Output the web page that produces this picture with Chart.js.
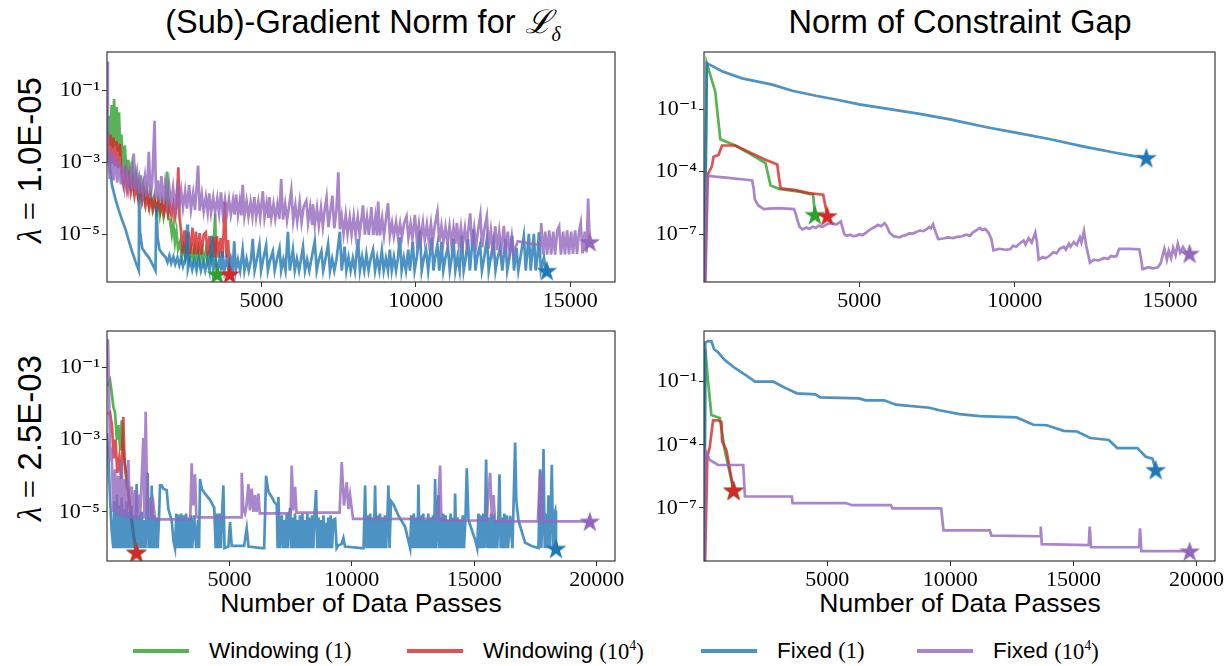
<!DOCTYPE html>
<html>
<head>
<meta charset="utf-8">
<title>Gradient norm and constraint gap</title>
<script src="https://cdn.jsdelivr.net/npm/chart.js@4.4.1/dist/chart.umd.min.js"></script>
<style>
  body { margin: 0; width: 1227px; height: 666px; position: relative; overflow: hidden; background: #fff;
         font-family: "Liberation Sans", Arial, sans-serif; color: #000; }
  canvas { position: absolute; }
  .title { position: absolute; top: 6px; font-size: 32.5px; line-height: 32px; white-space: nowrap; transform: translateX(-50%); }
  .xlab { position: absolute; top: 590px; font-size: 26.5px; line-height: 26.5px; white-space: nowrap; transform: translateX(-50%); }
  .rowlab { position: absolute; left: 30px; font-size: 33px; line-height: 33px; white-space: nowrap; transform: translate(-50%, -50%) rotate(-90deg); }
  .m { font-family: "Liberation Serif", "DejaVu Serif", serif; }
  .legend-item { position: absolute; top: 639px; height: 24px; display: flex; align-items: center; font-size: 22.5px; white-space: nowrap; }
  .legend-item i { display: inline-block; width: 56px; height: 3.5px; margin-right: 20px; }
</style>
</head>
<body>

<div class="title" style="left:363px">(Sub)-Gradient Norm for <span class="m" style="font-style:italic">ℒ</span><sub style="font-size:20px" class="m"><i>δ</i></sub></div>
<div class="title" style="left:960px">Norm of Constraint Gap</div>
<div class="rowlab" style="top:160px"><span class="m"><i>λ</i> =</span> 1.0E-05</div>
<div class="rowlab" style="top:438px"><span class="m"><i>λ</i> =</span> 2.5E-03</div>
<div class="xlab" style="left:361px">Number of Data Passes</div>
<div class="xlab" style="left:960px">Number of Data Passes</div>

<div class="legend-item" style="left:133px"><i style="background:rgba(44,160,44,0.8)"></i>Windowing&nbsp;<span class="m">(1)</span></div>
<div class="legend-item" style="left:407px"><i style="background:rgba(214,39,40,0.8)"></i>Windowing&nbsp;<span class="m">(10<sup style="font-size:14px">4</sup>)</span></div>
<div class="legend-item" style="left:701px"><i style="background:rgba(31,119,180,0.8)"></i>Fixed&nbsp;<span class="m">(1)</span></div>
<div class="legend-item" style="left:917px"><i style="background:rgba(148,103,189,0.8)"></i>Fixed&nbsp;<span class="m">(10<sup style="font-size:14px">4</sup>)</span></div>

<script>
// order of every series list: Windowing (1), Windowing (10^4), Fixed (1), Fixed (10^4)
const lineColors = ['rgba(44,160,44,0.8)', 'rgba(214,39,40,0.8)', 'rgba(31,119,180,0.8)', 'rgba(148,103,189,0.8)'];
const starColors = ['#2ca02c', '#d62728', '#1f77b4', '#9467bd'];

const xTicksTop = [5000, 10000, 15000];
const xTicksBottom = [5000, 10000, 15000, 20000];
const yTicksGrad = [1e-1, 1e-3, 1e-5];
const yTicksGap = [1e-1, 1e-4, 1e-7];

// ---- lambda = 1.0E-05, gradient norm ----
const gradWin1A = [[20,5e-3],[60,2e-2],[110,3e-3],[150,4e-2],[190,2.5e-3],[230,5.9e-2],[270,3e-3],[310,3.5e-2],[350,2e-3],[390,2.5e-2],[430,1.5e-3],[470,6e-3],[520,5e-4],[580,3e-3],[630,4e-4],[690,1.2e-3],[750,3e-4],[810,8e-4],[870,2.2e-4],[930,5e-4],[990,1.6e-4],[1050,3.5e-4],[1110,1.2e-4],[1170,2.5e-4],[1230,9e-5],[1290,1.8e-4],[1350,7e-5],[1410,1.4e-4],[1470,5.5e-5],[1530,1.1e-4],[1590,4.5e-5],[1650,9e-5],[1710,3.5e-5],[1770,8e-5],[1830,3.2e-5],[1890,7e-5],[1952,5.6e-4],[1990,2.9e-5],[2040,2.5e-5],[2100,1e-5],[2150,2e-5],[2200,6e-6],[2250,1.2e-5],[2300,4e-6],[2360,6e-6],[2420,2.4e-6],[2480,4.5e-6],[2540,2.2e-6],[2600,4.2e-6],[2660,2e-6],[2720,4e-6],[2780,2e-6],[2840,4e-6],[2900,1.9e-6],[2960,4e-6],[3020,1.9e-6],[3080,3.8e-6],[3140,1.9e-6],[3200,3.6e-6],[3260,1.9e-6],[3320,3.6e-6],[3380,1.9e-6],[3440,3.4e-6],[3504,3.8e-5],[3530,1.9e-6],[3570,8e-7]];

const gradWin4A = [[20,7e-3],[60,1e-3],[110,6e-3],[160,9e-4],[210,5e-3],[260,8e-4],[310,4e-3],[360,7e-4],[420,3.3e-3],[470,5e-4],[530,2.4e-4],[590,5e-4],[650,1.8e-4],[710,4e-4],[770,1.5e-4],[830,3e-4],[890,1.2e-4],[950,2.4e-4],[1010,1e-4],[1070,1.8e-4],[1130,8e-5],[1190,1.5e-4],[1250,6.5e-5],[1310,1.2e-4],[1370,5.5e-5],[1430,1.1e-4],[1490,5e-5],[1550,9e-5],[1610,4.8e-5],[1670,8.5e-5],[1730,4.5e-5],[1790,8e-5],[1850,4e-5],[1910,7.5e-5],[1970,3.7e-5],[2030,7e-5],[2090,3.4e-5],[2150,7e-5],[2210,3.2e-5],[2260,6.5e-5],[2310,7.4e-4],[2350,3e-5],[2400,1.2e-5],[2450,3e-6],[2510,1.3e-5],[2570,3e-6],[2630,1.2e-5],[2690,2.9e-6],[2766,1.55e-5],[2820,2.8e-6],[2880,1.2e-5],[2940,2.8e-6],[3000,1.1e-5],[3060,2.8e-6],[3130,1e-5],[3200,1.15e-5],[3260,2.6e-6],[3320,9e-6],[3380,2.4e-6],[3440,8.5e-6],[3500,2.3e-6],[3560,9e-6],[3620,2.3e-6],[3680,8e-6],[3740,2.3e-6],[3820,8.1e-5],[3870,2.3e-6],[3920,7e-6],[3970,8e-7]];

const gradFix1A = [[0,2e-3],[60,1.2e-3],[110,6e-4],[160,2.4e-4],[270,1e-4],[380,4.8e-5],[490,2.5e-5],[600,1.4e-5],[700,7e-6],[810,3.4e-6],[920,1.8e-6],[1030,1e-6],[1040,1.45e-4],[1070,1.2e-5],[1140,4.2e-6],[1250,3e-6],[1360,2.3e-6],[1470,1.5e-6],[1570,1e-6],[1600,6.5e-5],[1640,8e-6],[1700,3.8e-6],[1800,2.9e-6],[1900,2.3e-6],
  [1960,1.7e-6],[2020,2.6e-6],[2080,1.6e-6],[2150,2.4e-6],[2210,1.5e-6],[2280,2.3e-6],[2340,1.4e-6],[2400,2.2e-6],[2460,1.3e-6],[2530,2.1e-6],[2600,1.9e-5],[2620,1.1e-6],[2690,2e-6],[2760,1.05e-6],[2830,1.9e-6],[2900,1e-6],[2970,2.1e-6],[3040,1e-6],[3110,1.8e-6],[3180,1e-6],[3250,2e-6],[3320,1e-6],[3395,9.3e-6],[3440,1e-6],[3510,1.9e-6],[3580,1e-6],[3650,2.2e-6],[3700,1e-6],[3743,3.4e-6],[3800,1e-6],[3870,2e-6],[3940,1e-6],[4010,2.1e-6],[4070,1e-6],[4120,6.5e-6],[4170,1e-6],[4240,2e-6],[4310,1e-6],[4394,3.8e-6],[4450,1e-6],[4520,2.1e-6],[4590,1e-6],[4660,1.9e-6],[4720,7.6e-6],[4780,1e-6],[4850,2e-6],[4936,5.1e-6],[4990,1e-6],[5060,2.1e-6],[5153,5e-6],[5210,1e-6],[5280,1.9e-6],[5370,3.4e-6],[5430,1e-6],[5500,2e-6],[5587,4.2e-6],[5640,1e-6],[5710,2e-6],[5780,1e-6],[5858,1.2e-5],[5920,1e-6],[6020,3.8e-6],[6080,1e-6],[6150,2.1e-6],[6220,1e-6],[6280,2e-6],[6347,4.6e-6],[6410,1e-6],[6480,2e-6],[6550,1e-6],[6620,2.1e-6],[6727,6.5e-6],[6790,1e-6],[6860,2e-6],[6943,3.4e-6],[7000,1e-6],[7070,2e-6],[7160,5.4e-6],[7220,1e-6],[7290,2.1e-6],[7360,1e-6],[7430,2e-6],[7540,1.2e-5],[7600,1e-6],[7693,4.6e-6],[7750,1e-6],[7820,2.3e-6],[7890,1e-6],[7960,2.2e-6],[8030,1e-6],[8127,7.6e-6],[8190,1e-6],[8260,2.4e-6],[8330,1e-6],[8400,2.8e-6],[8470,1e-6],[8540,2.2e-6],[8615,3.8e-6],[8680,1e-6],[8750,2.3e-6],[8820,1e-6],[8900,3.6e-6],[8960,1e-6],[9030,2.2e-6],[9100,1e-6],[9158,3.8e-6],[9220,1e-6],[9290,2.4e-6],[9360,1e-6],[9420,2.2e-6],[9483,8.4e-6],[9540,1e-6],[9610,2.3e-6],[9680,1e-6],[9754,3.8e-6],[9810,1e-6],[9900,6.3e-6],[9960,1e-6],[10030,2.3e-6],[10134,1.3e-5],[10190,1e-6],[10260,2.2e-6],[10330,3.8e-6],[10400,1e-6],[10514,8.4e-6],[10570,1e-6],[10630,2.4e-6],[10698,5.1e-6],[10760,1e-6],[10830,6.3e-6],[10890,1e-6],[10960,2.3e-6],[11040,4.4e-6],[11100,1e-6],[11160,2.2e-6],[11219,7.6e-6],[11280,1e-6],[11350,2.4e-6],[11420,1e-6],[11490,9.3e-6],[11550,1e-6],[11620,2.3e-6],[11690,7.6e-6],[11750,1e-6],[11870,1.4e-5],[11930,1e-6],[11990,2.4e-6],[12080,5.1e-6],[12140,1e-6],[12210,2.2e-6],[12304,7.6e-6],[12360,1e-6],[12430,2.4e-6],[12520,6.3e-6],[12580,1e-6],[12650,2.3e-6],[12730,4.2e-6],[12800,1e-6],[12901,7.6e-6],[12960,1e-6],[13030,2.3e-6],[13118,9.3e-6],[13180,1e-6],[13260,4.2e-6],[13320,1e-6],[13390,2.4e-6],[13498,9.3e-6],[13560,1e-6],[13660,1.05e-5],[13720,1e-6],[13823,1.05e-5],[13880,1e-6],[13940,2.4e-6],[13986,1.15e-5],[14050,1e-6],[14149,2.3e-6],[14200,1e-6],[14240,1e-6]];

const gradFix4A = [[0,0.65],[30,2.7e-3],[90,3.5e-4],[150,2.2e-3],[210,3.2e-4],[270,1.6e-3],[330,2.8e-4],[390,1.1e-3],[450,2.5e-4],[510,8e-4],[570,2.2e-4],[630,6.5e-4],[690,2e-4],[750,5.5e-4],[810,1.8e-4],[867,1.8e-3],[920,1.6e-4],[980,4.8e-4],[1040,1.4e-4],[1100,4.4e-4],
  [1160,1.25e-4],[1230,4e-4],[1290,1.15e-4],[1355,2e-3],[1410,1.05e-4],[1470,3.6e-4],[1540,1.45e-2],[1590,9.5e-5],[1640,3.2e-4],[1700,8.5e-5],[1760,4.2e-4],[1820,8e-5],[1880,2.6e-4],[1950,7.5e-5],[2010,2.3e-4],[2070,6.8e-5],
  [2140,2e-4],[2200,6.2e-5],[2270,1.9e-4],[2330,6e-5],[2400,1.7e-4],[2460,5.6e-5],[2530,1.6e-4],[2590,5.3e-5],[2660,2.4e-4],[2720,5e-5],[2790,1.4e-4],[2850,4.8e-5],[2950,8.3e-4],[3000,4.6e-5],[3070,1.3e-4],[3130,4.4e-5],[3200,1.1e-4],
  [3260,4.2e-5],[3310,1.4e-4],[3370,4.1e-5],[3440,1.05e-4],[3500,4e-5],[3570,1e-4],[3630,3.9e-5],[3690,1.5e-4],[3750,3.8e-5],[3820,9.5e-5],[3880,3.7e-5],[3950,9.5e-5],[4010,3.6e-5],[4080,9e-5],[4130,3.6e-5],[4180,1.3e-4],[4240,3.5e-5],
  [4300,8.5e-5],[4350,3.4e-5],[4394,2.4e-4],[4450,3.3e-5],[4520,8.5e-5],[4580,3.2e-5],[4650,8e-5],[4710,3.2e-5],[4770,1.1e-4],[4830,3.1e-5],[4900,8e-5],[4960,3e-5],[5045,1.6e-4],[5100,3e-5],[5170,7.5e-5],[5230,2.9e-5],[5260,1.1e-4],[5320,2.9e-5],[5390,7e-5],
  [5450,2.8e-5],[5520,7e-5],[5580,2.7e-5],[5640,3.5e-4],[5700,2.6e-5],[5770,7e-5],[5830,2.5e-5],[5900,6.5e-5],[5967,1.7e-4],[6030,2.4e-5],[6100,6.5e-5],[6160,2.3e-5],[6238,8e-5],[6300,2.2e-5],[6370,6e-5],[6455,8.7e-5],[6510,2.1e-5],
  [6580,5.8e-5],[6640,2e-5],[6670,7e-5],[6730,1.9e-5],[6800,5.5e-5],[6860,1.8e-5],[6930,5.5e-5],[6990,1.7e-5],[7050,5e-5],[7110,1.07e-4],[7170,1.6e-5],[7240,5e-5],[7300,1.2e-4],[7360,1.5e-5],[7430,4.8e-5],[7490,5.4e-4],[7540,1.4e-5],
  [7600,3.2e-5],[7660,1.05e-5],[7730,3.5e-5],[7790,1.05e-5],[7860,3e-5],[7920,1e-5],[7990,3.2e-5],[8050,1e-5],[8120,3e-5],[8180,1e-5],[8290,6.5e-5],[8350,1e-5],[8420,3e-5],[8480,9.8e-6],[8560,5.8e-5],[8620,9.6e-6],[8690,3e-5],[8740,9.5e-6],[8780,8.3e-5],[8840,9.5e-6],[8910,2.8e-5],[8970,9.4e-6],[9040,3e-5],[9100,7.4e-5],[9160,9.3e-6],
  [9230,2.1e-5],[9290,9e-6],[9360,2.2e-5],[9420,8.6e-6],[9490,2e-5],[9550,8.3e-6],[9620,2.1e-5],[9700,3.2e-5],[9760,8e-6],[9830,2e-5],[9890,7.7e-6],[9970,3.5e-5],[10030,7.4e-6],[10100,2e-5],[10160,7.1e-6],[10230,2.1e-5],[10290,6.9e-6],[10360,1.9e-5],[10420,6.7e-6],[10490,2e-5],[10550,6.5e-6],[10620,1.9e-5],[10700,4.3e-5],[10760,6.3e-6],
  [10830,1.7e-5],[10890,6.1e-6],[10960,1.6e-5],[11020,5.9e-6],[11090,1.7e-5],[11150,5.7e-6],[11220,1.6e-5],[11280,5.5e-6],[11330,2.1e-5],[11390,5.3e-6],[11460,1.6e-5],[11520,5.2e-6],[11590,1.5e-5],[11650,5.1e-6],[11760,3.9e-5],[11820,4.9e-6],[11890,1.5e-5],[11950,4.7e-6],[12020,1.4e-5],[12090,3.5e-5],[12150,4.4e-6],[12220,1.4e-5],[12300,3.2e-5],[12360,4.1e-6],[12430,1.3e-5],[12490,3.9e-6],[12575,1.7e-5],[12630,3.7e-6],[12700,1.2e-5],[12760,3.5e-6],[12850,1.75e-5],[12910,3.2e-6],
  [12980,1.2e-5],[13040,3.1e-6],[13110,9e-6],[13170,3.1e-6],[13300,6.5e-6],[13600,5.8e-6],[13900,5.3e-6],[14040,5e-6],
  [14060,2.1e-5],[14120,2.8e-6],[14190,1.2e-5],[14250,2.75e-6],[14320,1.3e-5],[14380,2.75e-6],[14450,1.2e-5],[14510,2.75e-6],[14580,1.3e-5],[14640,1.7e-5],[14700,2.75e-6],[14770,1.2e-5],[14830,2.8e-6],[14900,1.3e-5],[14960,2.8e-6],[15030,1.2e-5],[15090,2.9e-6],[15160,1.3e-5],[15220,2.9e-6],[15290,1.3e-5],[15340,2.1e-5],[15400,3e-6],[15470,1.2e-5],[15530,3.2e-6],[15580,1e-4],[15630,6.3e-6]];

// ---- lambda = 1.0E-05, constraint gap ----
const gapWin1A = [[0,1e-12],[90,16],[362,0.69],[524,3.6e-3],[1009,1.8e-3],[1549,6.3e-4],[1981,2.6e-4],[2035,1.1e-4],[2142,2.2e-5],[2412,1.5e-5],[3059,1.1e-5],[3512,7.9e-6],[3570,8.7e-7]];
const gapWin4A = [[0,1e-12],[124,7.6e-5],[254,1.8e-4],[308,5.2e-4],[470,6.3e-4],[578,1.8e-3],[1009,1.8e-3],[1440,8.9e-4],[1981,3.7e-4],[2358,2.2e-4],[2412,5.4e-5],[2466,1.6e-5],[2951,1.3e-5],[3383,9.3e-6],[3836,7.9e-6],[3970,7.6e-7]];
const gapFix1A = [[0,1e-12],[90,16],[580,6.6],[1225,3],[1656,2.2],[2196,1.5],[2843,0.76],[3598,0.44],[4245,0.29],[5000,0.17],[5972,0.1],[6943,0.059],[7915,0.032],[9102,0.0135],[10073,7.2e-3],[11152,3.6e-3],[12231,1.6e-3],[13202,8.3e-4],[13850,5.6e-4],[14240,4.7e-4]];
const gapFix4A = [[0,1e-12],[92,6.5e-5],[362,5.8e-5],[700,5.2e-5],[1009,4.6e-5],[1300,4.2e-5],[1549,3.8e-5],[1600,1.5e-5],[1635,4.7e-6],[1750,2.4e-6],[1926,1.6e-6],[2100,1.7e-6],[2412,1.8e-6],[2650,1.7e-6],[2897,1.6e-6],[2950,1e-6],[3005,4.8e-7],[3080,2.2e-7],[3167,1.7e-7],[3300,2.1e-7],[3400,1.8e-7],[3500,2.3e-7],[3598,2e-7],[3700,2.6e-7],[3800,2.2e-7],[3922,2.8e-7],[4000,3.2e-7],[4137,3.4e-7],[4250,2.9e-7],[4407,4e-7],[4460,2e-7],[4515,1e-7],[4600,8.5e-8],[4700,9.5e-8],[4800,8e-8],[4893,8.3e-8],[5000,1e-7],[5100,9e-8],[5217,1.2e-7],[5300,1.5e-7],[5400,1.9e-7],[5500,2.2e-7],[5595,2.8e-7],[5700,2.4e-7],[5811,3.4e-7],[5880,2.5e-7],[5973,1.2e-7],[6100,8e-8],[6296,7.1e-8],[6400,8.5e-8],[6500,9e-8],[6600,1.1e-7],[6728,1.07e-7],[6850,1.3e-7],[6950,1.5e-7],[7050,1.4e-7],[7160,1.7e-7],[7250,2.2e-7],[7300,1.9e-7],[7375,3e-7],[7420,1.8e-7],[7537,5.9e-8],[7700,6.2e-8],[7850,7e-8],[8023,6.5e-8],[8150,7.5e-8],[8300,8e-8],[8450,9.5e-8],[8562,8.3e-8],[8650,1.2e-7],[8750,1.5e-7],[8886,2e-7],[8950,1.6e-7],[9050,1.8e-7],[9156,1.2e-7],[9250,6e-8],[9318,1.7e-8],[9500,2e-8],[9700,1.8e-8],[9857,1.9e-8],[9950,2.8e-8],[10050,2.5e-8],[10150,3.5e-8],[10288,5e-8],[10350,3.2e-8],[10450,6.5e-8],[10550,4e-8],[10666,1.2e-7],[10720,4e-8],[10774,6e-9],[10900,8e-9],[11000,7e-9],[11152,1e-8],[11250,1.4e-8],[11350,1.2e-8],[11450,2e-8],[11584,2.5e-8],[11650,1.8e-8],[11750,3.5e-8],[11800,2.5e-8],[11907,4.2e-8],[12000,3e-8],[12100,7e-8],[12150,4e-8],[12231,1.4e-7],[12300,3e-8],[12425,4.3e-9],[12550,6e-9],[12700,5.5e-9],[12878,7.2e-9],[13000,6.5e-9],[13100,9e-9],[13202,8.5e-9],[13280,9e-9],[13364,2e-8],[13700,2e-8],[14011,1.9e-8],[14060,8e-9],[14119,2.1e-9],[14300,2.6e-9],[14450,2.3e-9],[14604,2.5e-9],[14700,4e-9],[14780,1.2e-8],[14820,2e-8],[14900,6e-9],[14960,1.6e-8],[15036,7.2e-9],[15100,2.2e-8],[15180,1e-8],[15252,3.5e-8],[15330,1.3e-8],[15420,2.4e-8],[15500,1.5e-8],[15630,1.2e-8]];

// ---- lambda = 2.5E-03, gradient norm ----
const gradWin1B = [[20,3e-2],[123,4.3e-2],[191,2e-2],[260,8e-3],[327,5.6e-3],[400,1e-3],[463,2.5e-3],[540,5e-4],[599,3.4e-3],[660,6e-4],[735,2.2e-4],[800,5e-5],[872,4e-5],[940,1e-5],[1008,5.8e-6],[1100,2e-6],[1200,7.6e-7]];
const gradWin4B = [[20,5e-3],[123,5.6e-3],[200,2.5e-3],[280,3e-4],[350,1e-3],[420,1.2e-4],[500,3e-4],[580,8e-5],[667,4.2e-3],[720,2.2e-4],[800,1e-4],[880,3e-5],[960,1e-5],[1008,5.8e-6],[1100,2e-6],[1200,7.6e-7]];
const gradFix1B = [[0,1.5e-3],[54,3.3e-4],[130,2e-5],[191,3e-6],[259,1e-6],
  [300,2e-5],[350,1e-6],[400,3e-5],[450,1e-6],[500,1.5e-5],[550,1e-6],[600,2.5e-5],[650,1e-6],[700,1.2e-5],[750,1e-6],[800,2e-5],[850,1e-6],[900,1e-5],[950,1e-6],[1000,1.5e-5],[1050,1e-6],[1100,8e-6],[1150,1e-6],[1212,5.9e-5],[1260,1e-6],[1310,8e-6],[1360,1e-6],[1420,1e-5],[1470,1e-6],[1520,6e-6],[1570,1e-6],[1620,9e-6],[1662,1.2e-4],[1700,1e-6],[1750,7e-6],[1790,1e-6],[1825,5.4e-5],[1870,1e-6],[1920,8e-6],[1970,1e-6],[2020,7e-6],[2070,1e-6],[2120,6e-6],[2166,5.4e-5],[2234,5.4e-5],[2300,4.4e-5],[2438,4e-5],[2506,1.2e-5],[2642,5.8e-6],[2720,1.5e-6],[2778,1e-6],
  [2830,9e-6],[2880,1e-6],[2930,8.5e-6],[2980,1e-6],[3030,9e-6],[3080,1e-6],[3130,8e-6],[3180,1e-6],[3230,9e-6],[3280,1e-6],[3330,7e-6],[3380,1e-6],[3430,8e-6],[3480,1e-6],
  [3560,8e-6],[3640,1e-6],[3720,6e-6],[3760,1e-6],[3800,8.1e-5],[3868,4.4e-5],[4004,3.2e-5],[4200,2.2e-5],[4380,1.3e-5],[4440,1e-6],[4500,9e-6],[4550,1e-6],[4600,9e-6],[4650,1e-6],[4700,8e-6],[4753,5.4e-5],[4800,1e-6],
  [4958,1.1e-6],[5026,5.2e-6],[5094,1.15e-6],[5600,1.15e-6],[5707,3.5e-6],[5780,1.1e-6],[6320,1e-6],
  [6420,1e-6],[6497,1e-4],[6592,3.6e-5],[6728,2.6e-5],[6850,1.8e-5],[6933,1.6e-5],[6970,1e-6],[7001,2.6e-5],[7060,1e-6],
  [7137,8e-6],[7190,1e-6],[7240,6e-6],[7290,1e-6],[7340,9e-6],[7390,1e-6],[7440,7e-6],[7477,1.3e-5],[7530,1e-6],[7580,7e-6],[7630,1e-6],[7680,9e-6],[7730,1e-6],[7780,6e-6],[7830,1e-6],[7880,8e-6],[7930,1e-6],[7980,9e-6],[8030,1e-6],[8080,6e-6],[8130,1e-6],[8180,9e-6],[8230,1e-6],[8280,7e-6],[8330,1e-6],[8380,8e-6],[8430,1e-6],[8480,9e-6],[8540,4e-5],[8590,1e-6],[8640,7e-6],[8690,1e-6],[8740,6e-6],[8790,1e-6],[8840,8e-6],[8890,1e-6],[8940,5e-6],[8990,1e-6],[9040,7e-6],[9090,1e-6],[9140,8e-6],[9190,1e-6],[9250,6e-6],[9316,6.4e-6],[9380,1e-6],[9452,1.2e-6],
  [9580,1.3e-6],[9656,1.9e-6],[9720,1.1e-6],[10400,1e-6],[10480,1e-6],
  [10542,5.4e-5],[10600,1e-6],[10650,8e-6],[10700,1e-6],[10750,9e-6],[10800,1e-6],[10850,7e-6],[10900,1e-6],[10950,5.4e-5],[11000,1e-6],[11050,8e-6],[11100,1e-6],[11150,9e-6],[11200,1e-6],[11250,7e-6],[11300,1e-6],[11350,8e-6],[11400,1e-6],[11450,6e-6],[11495,5.4e-5],[11540,1e-6],
  [11600,2e-5],[11700,1.6e-5],[11900,8e-6],[12176,3.9e-6],[12381,1e-6],
  [12430,8e-6],[12480,1e-6],[12530,9e-6],[12580,1e-6],[12630,7e-6],[12680,1e-6],[12721,5.7e-5],[12770,1e-6],[12820,8e-6],[12870,1e-6],[12920,9e-6],[12970,1e-6],[13020,6e-6],[13070,1e-6],[13120,9e-6],[13170,1e-6],[13220,7e-6],[13270,1e-6],[13320,8e-6],[13360,1e-6],[13402,8.1e-5],[13450,1e-6],[13538,2.9e-5],[13580,1e-6],[13630,7e-6],[13680,1e-6],[13730,9e-6],[13780,1e-6],[13830,8e-6],[13880,1e-6],[13930,6e-6],[13980,1e-6],[14030,9e-6],[14080,1e-6],[14130,7e-6],[14180,1e-6],[14219,3.2e-5],[14270,1e-6],
  [14330,7e-6],[14380,1e-6],[14430,6e-6],[14480,1e-6],[14530,8e-6],[14580,1e-6],[14640,6e-6],[14696,1.6e-4],[14764,6e-6],[14900,3.2e-6],[15036,1.7e-6],[15120,1e-6],
  [15173,9e-6],[15220,1e-6],[15270,8e-6],[15320,1e-6],[15370,9e-6],[15420,1e-6],[15486,2.8e-4],[15540,1e-6],[15590,7e-6],[15640,1e-6],[15690,9e-6],[15740,1e-6],[15790,8e-6],[15840,1e-6],[15890,6e-6],[15940,1e-6],[15990,8e-6],[16031,1.1e-4],[16080,1e-6],[16130,7e-6],[16180,1e-6],[16230,9e-6],[16280,1e-6],[16330,8e-6],[16380,1e-6],[16467,7.8e-6],[16560,1e-6],[16671,8.3e-4],
  [16720,2e-5],[16807,5.8e-6],[17079,1.4e-6],[17400,1.1e-6],[17624,1e-6],
  [17692,1.5e-4],[17740,1e-6],[17790,8e-6],[17829,5.5e-4],[17880,1e-6],[17930,9e-6],[17980,1e-6],[18033,2.9e-5],[18080,1e-6],[18120,8e-6],[18169,2e-4],[18220,1e-6],[18270,9e-6],[18305,1.07e-5],[18340,9.8e-7]];
const gradFix4B = [[40,0.59],[130,3.3e-4],[190,4.5e-4],[260,1e-5],[330,1.5e-4],[400,8e-6],[460,1e-4],[530,7e-6],[599,2.7e-4],[660,7e-6],[735,8e-5],[800,6.5e-6],[872,2.7e-4],[940,6.5e-6],[1008,5e-5],[1076,6.2e-6],[1144,4e-5],[1210,6.2e-6],[1280,3e-5],[1350,6.2e-6],[1485,1.1e-3],[1530,6.5e-6],[1580,5.9e-3],[1640,2e-5],[1700,6.2e-6],[1770,2.5e-5],[1830,6.2e-6],[1900,1.5e-5],[1961,6.2e-6],
  [3400,6.2e-6],[3459,2.2e-4],[3520,1.5e-5],[3596,1.1e-4],[3650,7.1e-6],[5500,7.1e-6],
  [5503,1.2e-4],[5570,1.2e-5],[5640,9e-6],[5700,1.5e-5],[5775,5.9e-5],[5840,1.1e-5],[5911,4.4e-5],[5980,1e-5],[6047,2.9e-5],[6110,1e-5],[6184,3.2e-5],[6240,9.1e-6],[7500,9.1e-6],
  [7545,1.9e-4],[7610,1.1e-5],[7682,4.9e-5],[7740,9.6e-6],[9500,9.6e-6],
  [9588,2.4e-4],[9680,1.5e-5],[9793,6.6e-5],[9860,1.2e-5],[9929,2.9e-5],[10050,6.4e-6],[13500,6.4e-6],
  [13606,1.9e-4],[13660,5.8e-6],[15500,5.8e-6],
  [15650,1.2e-4],[15720,7e-6],[15786,2.9e-5],[15850,5.5e-6],[17600,5.5e-6],
  [17692,1.35e-4],[17730,6e-6],[17760,1e-4],[17800,5.5e-6],[19720,5.5e-6]];

// ---- lambda = 2.5E-03, constraint gap ----
const gapWin1B = [[0,1e-12],[54,3.5],[163,0.11],[300,2.6e-3],[640,1.9e-3],[844,5.4e-5],[1200,6.9e-7]];
const gapWin4B = [[0,1e-12],[136,2.7e-5],[232,7.6e-5],[368,1.45e-3],[572,1.45e-3],[708,1.2e-3],[735,1.5e-4],[913,5.4e-5],[1200,6.9e-7]];
const gapFix1B = [[0,1e-12],[54,7.2],[163,8.5],[300,8.5],[409,3.5],[572,2.5],[844,1.07],[1253,0.45],[1662,0.22],[2070,0.1],[2819,0.1],[3296,0.051],[3773,0.028],[4522,0.025],[4726,0.018],[6292,0.016],[6565,0.013],[7314,0.013],[7791,8.1e-3],[9153,5.8e-3],[9561,4.4e-3],[10378,2.9e-3],[11196,2.3e-3],[12694,2e-3],[13375,9e-4],[13920,8.5e-4],[14601,4.6e-4],[15146,4.3e-4],[15690,2.1e-4],[16439,1.7e-4],[16780,7e-5],[17597,7e-5],[17938,2.7e-5],[18210,2.2e-5],[18340,6.6e-6]];
const gapFix4B = [[0,1e-12],[54,5.4e-5],[232,1.9e-5],[572,1.1e-5],[1594,1.1e-5],[1662,3.5e-7],[3568,3.5e-7],[3596,1.7e-7],[5748,1.7e-7],[6020,1.35e-7],[7586,1.35e-7],[7655,9.5e-8],[9630,9.5e-8],[9725,8.5e-9],[11604,8.5e-9],[11672,4.8e-9],[13647,4.5e-9],[13675,1.3e-8],[13716,1.9e-9],[15622,1.7e-9],[15663,1.3e-8],[15717,1.35e-9],[17665,1.35e-9],[17706,1.07e-8],[17760,8.9e-10],[19720,8.9e-10]];

// filled five-pointed star used as the end marker
function starImage(color) {
  const r = 11;
  const c = document.createElement('canvas');
  c.width = c.height = 2 * r + 2;
  const g = c.getContext('2d');
  g.beginPath();
  for (let i = 0; i < 10; i++) {
    const rad = i % 2 ? r * 0.382 : r;
    const a = -Math.PI / 2 + i * Math.PI / 5;
    g.lineTo(r + 1 + rad * Math.cos(a), r + 1 + rad * Math.sin(a) + 1);
  }
  g.closePath();
  g.fillStyle = color;
  g.fill();
  return c;
}
const starImgs = starColors.map(starImage);

const sup = { '-': '⁻', '0': '⁰', '1': '¹', '2': '²', '3': '³', '4': '⁴', '5': '⁵', '6': '⁶', '7': '⁷', '8': '⁸', '9': '⁹' };
function powerLabel(v) {
  const e = Math.round(Math.log10(v));
  return '10' + String(e).split('').map(ch => sup[ch]).join('');
}

const framePlugin = {
  id: 'frame',
  afterDatasetsDraw(chart) {
    const { ctx, chartArea: a } = chart;
    ctx.save();
    ctx.strokeStyle = '#3a3a3a';
    ctx.lineWidth = 1.2;
    ctx.strokeRect(a.left, a.top, a.right - a.left, a.bottom - a.top);
    ctx.restore();
  }
};

const tickFont = { family: '"Liberation Serif", "DejaVu Serif", serif', size: 22 };

function drawPanel(box, series, xMax, yMin, yMax, xTicks, yTicks) {
  const yAxisW = 100, xAxisH = 40, padRight = 24;
  const canvas = document.createElement('canvas');
  canvas.width = yAxisW + box.w + padRight;
  canvas.height = box.h + xAxisH;
  canvas.style.left = (box.x - yAxisW) + 'px';
  canvas.style.top = box.y + 'px';
  document.body.appendChild(canvas);

  const datasets = series.map((pts, i) => ({
    data: pts.map(p => ({ x: p[0], y: p[1] })),
    borderColor: lineColors[i],
    borderWidth: 2.7,
    pointRadius: 0,
    fill: false,
    tension: 0,
    order: 5 - i
  }));
  // end markers, later series on top (red star over green star)
  series.forEach((pts, i) => {
    const last = pts[pts.length - 1];
    datasets.push({
      data: [{ x: last[0], y: last[1] }],
      showLine: false,
      pointStyle: starImgs[i],
      pointRadius: 11,
      order: -i
    });
  });

  const noPad = s => { s.paddingLeft = 0; s.paddingRight = 0; s.paddingTop = 0; s.paddingBottom = 0; };

  new Chart(canvas, {
    type: 'line',
    data: { datasets },
    options: {
      responsive: false,
      animation: false,
      devicePixelRatio: 1,
      events: [],
      layout: { padding: { left: 0, top: 0, right: padRight, bottom: 0 } },
      plugins: { legend: { display: false }, tooltip: { enabled: false } },
      scales: {
        x: {
          type: 'linear', min: 0, max: xMax, bounds: 'data',
          afterBuildTicks: s => { s.ticks = xTicks.map(v => ({ value: v })); },
          afterFit: s => { s.height = xAxisH; noPad(s); },
          ticks: { font: tickFont, color: '#000', padding: 1, maxRotation: 0, autoSkip: false, callback: v => String(v) },
          grid: { display: true, drawOnChartArea: false, drawTicks: true, tickLength: 5, color: '#333' },
          border: { display: false }
        },
        y: {
          type: 'logarithmic', min: yMin, max: yMax, bounds: 'data',
          afterBuildTicks: s => { s.ticks = yTicks.map(v => ({ value: v })); },
          afterFit: s => { s.width = yAxisW; noPad(s); },
          ticks: { font: tickFont, color: '#000', padding: 2, autoSkip: false, callback: v => powerLabel(v) },
          grid: { display: true, drawOnChartArea: false, drawTicks: true, tickLength: 5, color: '#333' },
          border: { display: false }
        }
      }
    },
    plugins: [framePlugin]
  });
}

drawPanel({ x: 107, y: 40, w: 508, h: 242 }, [gradWin1A, gradWin4A, gradFix1A, gradFix4A], 16450, 4.8e-7, 1.19, xTicksTop, yTicksGrad);
drawPanel({ x: 704, y: 40, w: 511, h: 242 }, [gapWin1A, gapWin4A, gapFix1A, gapFix4A], 16450, 5.1e-10, 55, xTicksTop, yTicksGap);
drawPanel({ x: 107, y: 319, w: 508, h: 242 }, [gradWin1B, gradWin4B, gradFix1B, gradFix4B], 20750, 4.4e-7, 1.0, xTicksBottom, yTicksGrad);
drawPanel({ x: 704, y: 319, w: 511, h: 242 }, [gapWin1B, gapWin4B, gapFix1B, gapFix4B], 20750, 3.0e-10, 25.7, xTicksBottom, yTicksGap);
</script>
</body>
</html>
